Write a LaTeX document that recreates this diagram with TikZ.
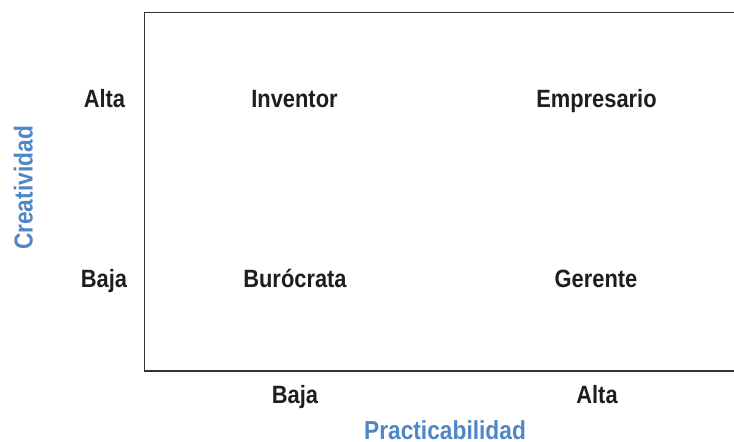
\documentclass[tikz,border=0pt]{standalone}
\usepackage{fontspec}
\setmainfont{Liberation Sans}[FakeStretch=0.875]
\definecolor{axisblue}{RGB}{79,134,198}
\definecolor{frameline}{RGB}{51,51,51}
\definecolor{labtext}{RGB}{30,30,30}
\begin{document}
\begin{tikzpicture}[x=1pt,y=-1pt,
  lab/.style={font=\fontsize{25}{28}\selectfont\bfseries, text=labtext, inner sep=0pt, anchor=base},
  axlab/.style={font=\fontsize{26}{29}\selectfont\bfseries, text=axisblue, inner sep=0pt, anchor=base},
  frame/.style={draw=frameline, line width=1.4pt}]
\useasboundingbox (0,0) rectangle (734,442);
\coordinate (tr) at (734,12.5);
\coordinate (tl) at (144.5,12.5);
\coordinate (bl) at (144.5,371);
\coordinate (br) at (734,371);
\draw[frame] (tr) -- (tl) -- (bl) -- (br);
% row labels
\node[lab] (altaL) at (104.5,107.5) {Alta};
\node[lab] (bajaL) at (104,287.5) {Baja};
% quadrants
\node[lab] (inv) at (294.5,107.5) {Inventor};
\node[lab] (emp) at (596.5,107.5) {Empresario};
\node[lab] (bur) at (295,287.5) {Burócrata};
\node[lab] (ger) at (596,287.5) {Gerente};
% column labels
\node[lab] (bajaB) at (295,403) {Baja};
\node[lab] (altaB) at (597,403) {Alta};
% axis titles
\node[axlab] (prac) at (445,439) {Practicabilidad};
\node[axlab, rotate=90] (crea) at (32.5,188) {Creatividad};
\end{tikzpicture}
\end{document}
